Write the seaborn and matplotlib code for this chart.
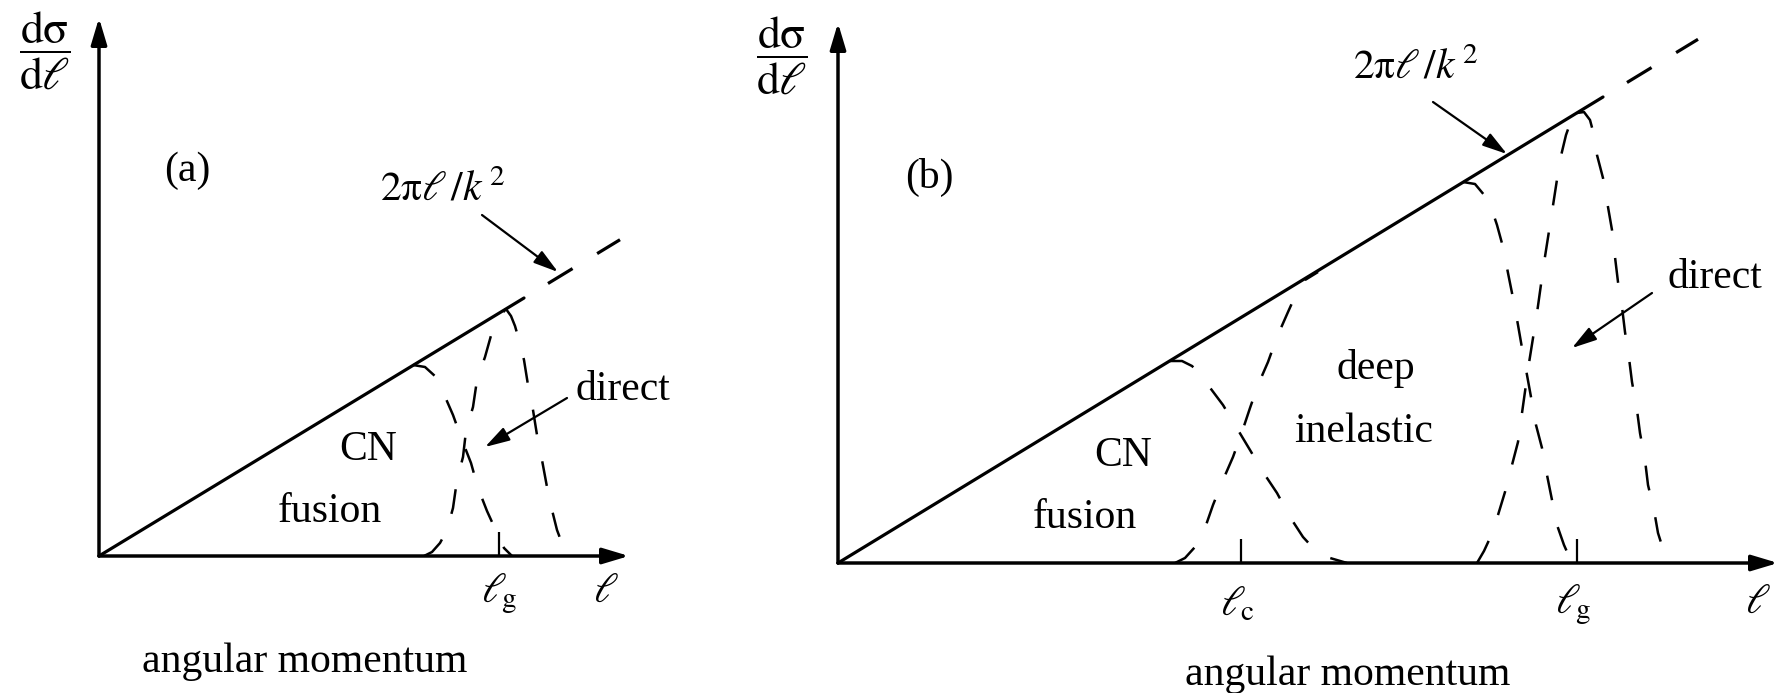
import matplotlib
matplotlib.use("Agg")
import matplotlib.pyplot as plt
import seaborn as sns

# ---------------- panel (a): fusion + direct ----------------
# angular momentum (ell) and d(sigma)/d(ell), arbitrary units
a_line_ell = [0, 425]
a_line_sig = [0, 258]
a_ext_ell = [449, 521]
a_ext_sig = [272.5, 316.3]

a_fusion_ell = [314, 326, 337, 344, 354, 363, 372, 379, 388, 398, 405, 413]
a_fusion_sig = [191, 189, 179, 164, 141, 116, 93, 68, 45, 23, 8, 0]

a_direct_up_ell = [325, 333, 341, 348, 354, 358, 364, 367, 374, 378, 386, 393, 400, 407]
a_direct_up_sig = [0, 4, 13, 26, 48, 76, 99, 125, 149, 176, 199, 224, 239, 247]

a_direct_dn_ell = [407, 412, 416, 420, 425, 429, 434, 438, 443, 448, 453, 458, 464, 475]
a_direct_dn_sig = [247, 240, 230, 216, 196, 171, 146, 121, 96, 69, 46, 26, 10, 0]

a_ticks_ell = [400]
a_tick_labels = [r"$\ell_{\!\mathrm{g}}$"]

# ---------------- panel (b): fusion + deep inelastic + direct ----------------
b_line_ell = [0, 765]
b_line_sig = [0, 466]
b_ext_ell = [789, 860]
b_ext_sig = [480.5, 523.7]

b_fusion_ell = [332, 344, 354, 362, 370, 385, 400, 412, 425, 439, 452, 465, 477, 492, 509]
b_fusion_sig = [202, 202, 197, 189, 178, 158, 133, 113, 91, 70, 46, 26, 13, 5, 0]

b_dic_up_ell = [337, 347, 357, 367, 375, 385, 395, 404, 412, 420, 430, 439, 450, 459, 467, 480]
b_dic_up_sig = [0, 5, 16, 35, 58, 83, 106, 131, 155, 178, 201, 226, 251, 271, 283, 291]

b_dic_dn_ell = [625, 637, 647, 654, 659, 665, 670, 675, 680, 684, 689, 693, 698, 704,
                709, 714, 719, 726, 734]
b_dic_dn_sig = [381, 379, 367, 353, 338, 316, 290, 265, 238, 215, 188, 166, 138, 115,
                88, 63, 38, 18, 0]

b_direct_up_ell = [639, 646, 652, 660, 667, 674, 680, 684, 691, 699, 706, 714, 722, 728, 734, 739]
b_direct_up_sig = [0, 12, 25, 48, 71, 98, 121, 150, 200, 250, 300, 351, 403, 428, 445, 450]

b_direct_dn_ell = [739, 746, 752, 756, 759, 765, 770, 774, 777, 780, 784, 787, 791, 794,
                   799, 802, 807, 810, 816, 820, 826, 835]
b_direct_dn_sig = [450, 451, 443, 428, 408, 385, 356, 333, 306, 281, 256, 231, 205, 181,
                   153, 130, 103, 78, 53, 30, 11, 0]

b_ticks_ell = [403, 739]
b_tick_labels = [r"$\ell_{\!\mathrm{c}}$", r"$\ell_{\!\mathrm{g}}$"]

# ---------------- styling ----------------
sns.set_theme(style="white")
plt.rcParams["font.family"] = ["Liberation Serif", "DejaVu Serif"]
plt.rcParams["mathtext.fontset"] = "stix"

W, H = 1787, 693
fig = plt.figure(figsize=(W / 100, H / 100), dpi=100)
fig.patch.set_facecolor("white")

INK = "black"
FS = 30
DASH = (0, (10, 11))
AXIS_ARROW = "-|>,head_length=0.8,head_width=0.24"
NOTE_ARROW = "-|>,head_length=0.75,head_width=0.22"
YLABEL = r"$\dfrac{\mathrm{d}\mathrm{\sigma}}{\mathrm{d}\ell}$"
SLOPE_LABEL = r"$2\mathrm{\pi}\ell\,/k^{\,2}$"


def make_panel(ox, oy):
    """Axes spanning the figure with 1 data unit per pixel, origin at (ox, oy)."""
    ax = fig.add_axes([0, 0, 1, 1])
    ax.set_xlim(-ox, W - ox)
    ax.set_ylim(-(H - oy), oy)
    ax.set_axis_off()
    ax.patch.set_alpha(0)
    return ax


def arrow(ax, start, end, style, lw):
    ax.annotate("", xy=end, xytext=start,
                arrowprops=dict(arrowstyle=style, color=INK, lw=lw,
                                mutation_scale=20, shrinkA=0, shrinkB=0))


def solid(ax, x, y, lw=2.3):
    sns.lineplot(x=x, y=y, ax=ax, color=INK, lw=lw, sort=False, estimator=None)


def dashed(ax, x, y, lw=1.8):
    sns.lineplot(x=x, y=y, ax=ax, color=INK, lw=lw, sort=False, estimator=None,
                 linestyle=DASH, dash_capstyle="butt")


def draw_axes(ax, x_end, y_end, ticks):
    arrow(ax, (0, 0), (x_end, 0), AXIS_ARROW, 2.5)
    arrow(ax, (0, 0), (0, y_end), AXIS_ARROW, 2.5)
    for t in ticks:
        ax.plot([t, t], [0, 24], color=INK, lw=1.6, solid_capstyle="butt")


def label(ax, x, y, s, size=FS):
    ax.text(x, y, s, fontsize=size, ha="center", va="center", color=INK)


# ---------------- (a) ----------------
axa = make_panel(99, 556)
draw_axes(axa, 530, 538, a_ticks_ell)
solid(axa, a_line_ell, a_line_sig)
sns.lineplot(x=a_ext_ell, y=a_ext_sig, ax=axa, color=INK, lw=2.3, sort=False,
             estimator=None, linestyle=(0, (9, 9)))
dashed(axa, a_fusion_ell, a_fusion_sig)
dashed(axa, a_direct_up_ell, a_direct_up_sig)
dashed(axa, a_direct_dn_ell, a_direct_dn_sig)

label(axa, -54, 505, YLABEL, 33)
label(axa, 88, 385, "(a)")
label(axa, 344, 366, SLOPE_LABEL)
arrow(axa, (383, 341), (459, 284), NOTE_ARROW, 1.6)
label(axa, 524, 166, "direct")
arrow(axa, (468, 158), (386, 109), NOTE_ARROW, 1.6)
label(axa, 269, 106, "CN")
label(axa, 231, 44, "fusion")
for t, lab in zip(a_ticks_ell, a_tick_labels):
    label(axa, t, -38, lab)
label(axa, 507, -36, r"$\ell$")
label(axa, 206, -106, "angular momentum")

# ---------------- (b) ----------------
axb = make_panel(838, 563)
draw_axes(axb, 940, 540, b_ticks_ell)
solid(axb, b_line_ell, b_line_sig)
sns.lineplot(x=b_ext_ell, y=b_ext_sig, ax=axb, color=INK, lw=2.3, sort=False,
             estimator=None, linestyle=(0, (9, 9)))
dashed(axb, b_fusion_ell, b_fusion_sig)
dashed(axb, b_dic_up_ell, b_dic_up_sig)
dashed(axb, b_dic_dn_ell, b_dic_dn_sig)
dashed(axb, b_direct_up_ell, b_direct_up_sig)
dashed(axb, b_direct_dn_ell, b_direct_dn_sig)

label(axb, -56, 507, YLABEL, 33)
label(axb, 91, 386, "(b)")
label(axb, 578, 495, SLOPE_LABEL)
arrow(axb, (595, 461), (669, 409), NOTE_ARROW, 1.6)
label(axb, 877, 285, "direct")
arrow(axb, (814, 270), (734, 215), NOTE_ARROW, 1.6)
label(axb, 538, 195, "deep")
label(axb, 526, 131, "inelastic")
label(axb, 285, 107, "CN")
label(axb, 247, 45, "fusion")
for t, lab in zip(b_ticks_ell, b_tick_labels):
    label(axb, t - 4, -42, lab)
label(axb, 920, -40, r"$\ell$")
label(axb, 510, -112, "angular momentum")

fig.savefig("out.png", dpi=100, facecolor="white")
